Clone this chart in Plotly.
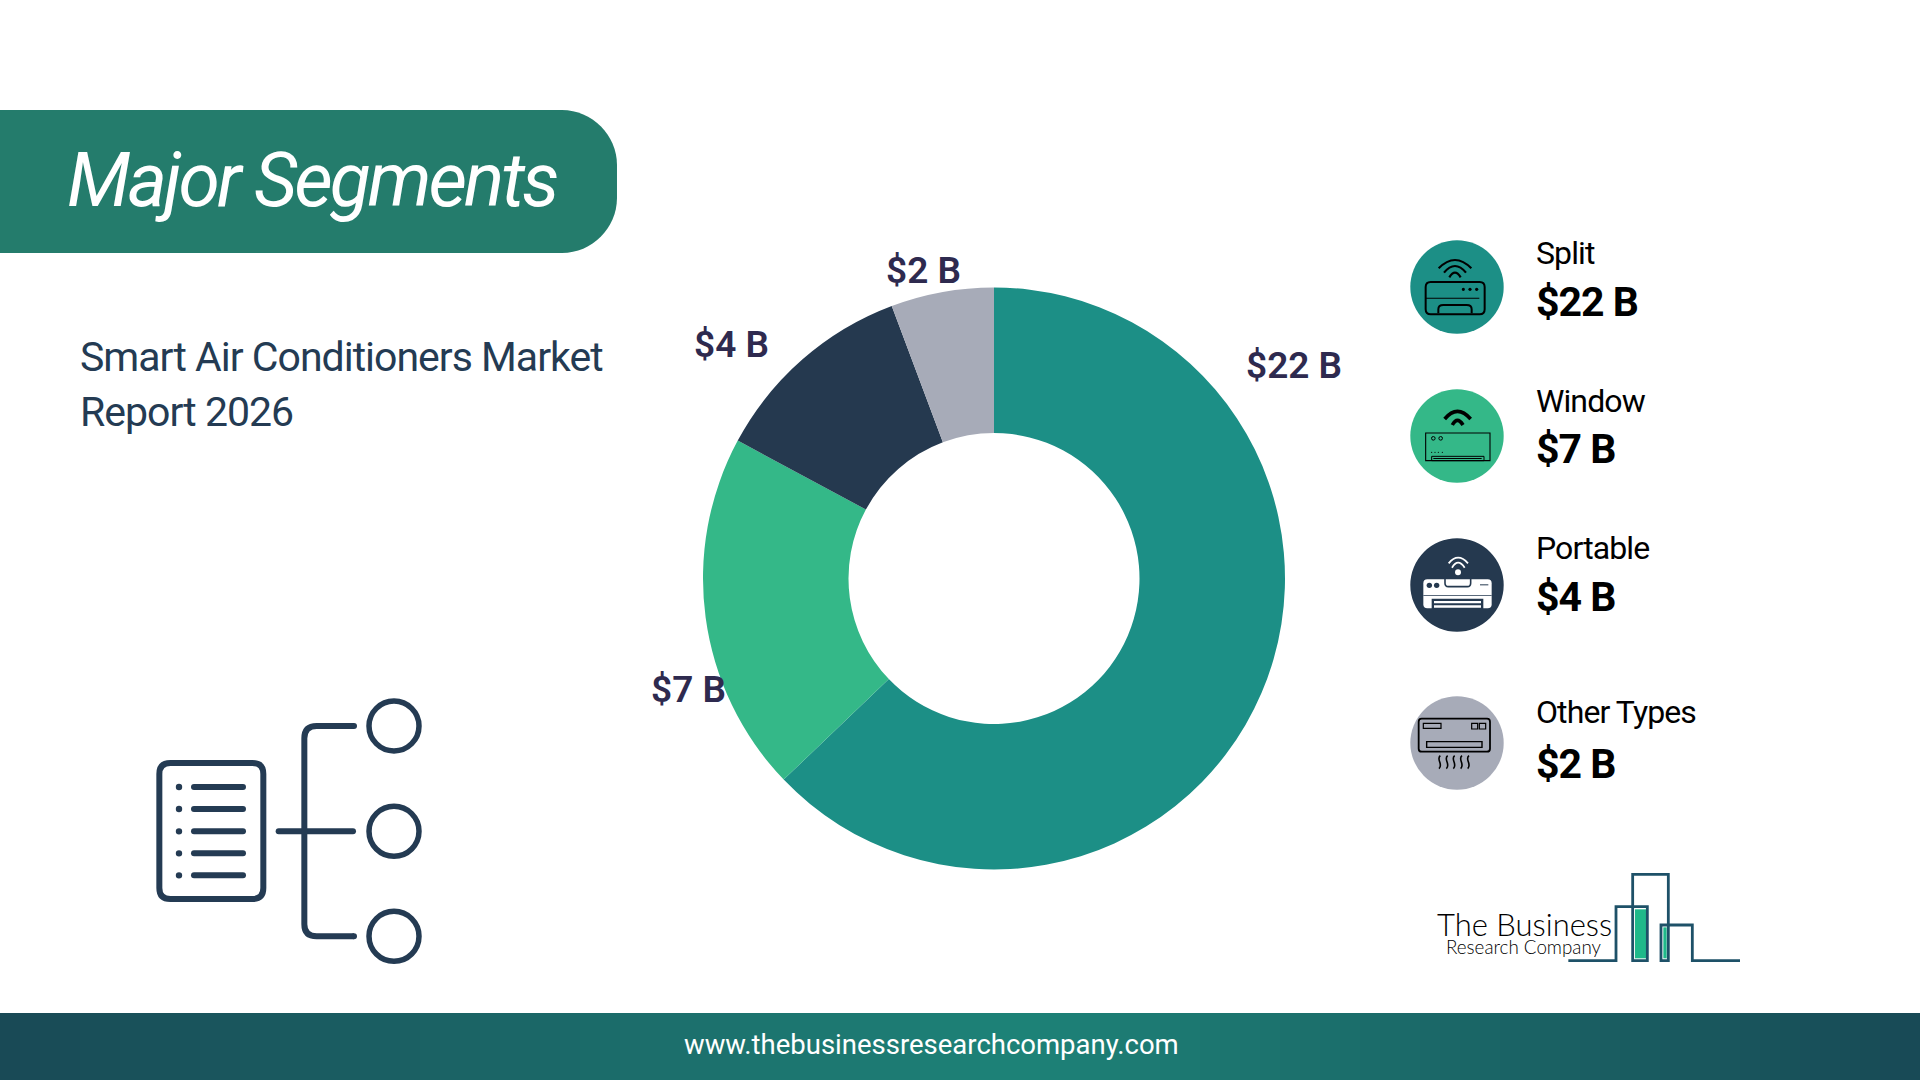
import json

import plotly.graph_objects as go

segments = ["Split", "Window", "Portable", "Other Types"]
values = [22, 7, 4, 2]
colors = ["#1c8f86", "#34b888", "#25394f", "#a7abb8"]
value_labels = ["$22 B", "$7 B", "$4 B", "$2 B"]

W, H = 1920, 1080
NAVY = "#243b53"
FONT = "Roboto"

shapes = []
annotations = []
# tightened tracking of the slide's texts, px per letter, by text and size
tracking = {}


def fx(x):
    return x / W


def fy(y):
    return 1 - y / H


def path(d, fill=None, color=None, width=0):
    # d is a list of (command, x, y, x, y...) in pixels, y going down
    parts = []
    for item in d:
        cmd = item[0]
        nums = item[1:]
        pts = []
        for i in range(0, len(nums), 2):
            pts.append("%.5f,%.5f" % (fx(nums[i]), fy(nums[i + 1])))
        parts.append(cmd + " ".join(pts))
    shapes.append(
        dict(
            type="path",
            xref="paper",
            yref="paper",
            path=" ".join(parts),
            fillcolor=fill if fill else "rgba(0,0,0,0)",
            line=dict(color=color if color else "rgba(0,0,0,0)", width=width),
        )
    )


def rect(x0, y0, x1, y1, fill=None, color=None, width=0):
    shapes.append(
        dict(
            type="rect",
            xref="paper",
            yref="paper",
            x0=fx(x0),
            x1=fx(x1),
            y0=fy(y0),
            y1=fy(y1),
            fillcolor=fill if fill else "rgba(0,0,0,0)",
            line=dict(color=color if color else "rgba(0,0,0,0)", width=width),
        )
    )


def circle(cx, cy, r, fill=None, color=None, width=0):
    shapes.append(
        dict(
            type="circle",
            xref="paper",
            yref="paper",
            x0=fx(cx - r),
            x1=fx(cx + r),
            y0=fy(cy - r),
            y1=fy(cy + r),
            fillcolor=fill if fill else "rgba(0,0,0,0)",
            line=dict(color=color if color else "rgba(0,0,0,0)", width=width),
        )
    )


def round_rect(x0, y0, x1, y1, r, fill=None, color=None, width=0):
    path(
        [
            ("M", x0 + r, y0),
            ("L", x1 - r, y0),
            ("Q", x1, y0, x1, y0 + r),
            ("L", x1, y1 - r),
            ("Q", x1, y1, x1 - r, y1),
            ("L", x0 + r, y1),
            ("Q", x0, y1, x0, y1 - r),
            ("L", x0, y0 + r),
            ("Q", x0, y0, x0 + r, y0),
            ("Z",),
        ],
        fill,
        color,
        width,
    )


def arc(x0, y0, xm, ym, x1, y1, color, width):
    # quadratic curve through the peak (xm, ym)
    path(
        [("M", x0, y0), ("Q", xm, 2 * ym - (y0 + y1) / 2, x1, y1)],
        None,
        color,
        width,
    )


def text(x, y, s, size, color, weight=400, anchor="left", style="normal", family=FONT, spacing=0):
    annotations.append(
        dict(
            x=fx(x),
            y=fy(y),
            xref="paper",
            yref="paper",
            text=s,
            showarrow=False,
            xanchor=anchor,
            yanchor="middle",
            font=dict(family=family, size=size, color=color, weight=weight, style=style),
        )
    )
    if spacing:
        tracking["%s|%g" % (s, size)] = spacing


# footer band, teal a little right of the middle and dark on both sides
def mix(a, b, t):
    return "rgb(%d,%d,%d)" % tuple(a[i] + (b[i] - a[i]) * t for i in range(3))


dark_l = (25, 74, 86)
mid = (30, 131, 120)
dark_r = (24, 74, 86)
peak = 0.53
for i in range(96):
    t = (i + 0.5) / 96
    if t < peak:
        c = mix(dark_l, mid, t / peak)
    else:
        c = mix(mid, dark_r, (t - peak) / (1 - peak))
    rect(i * 20, 1013, (i + 1) * 20, 1080, fill=c)

# title banner
path(
    [
        ("M", 0, 110),
        ("L", 562, 110),
        ("C", 592, 110, 617, 135, 617, 165),
        ("L", 617, 198),
        ("C", 617, 228, 592, 253, 562, 253),
        ("L", 0, 253),
        ("Z",),
    ],
    fill="#247c6c",
)
text(65, 180, "Major Segments", 75, "white", weight=400, style="italic", spacing=-3)
text(78, 357, "Smart Air Conditioners Market", 41, NAVY, spacing=-1)
text(78, 412, "Report 2026", 41, NAVY, spacing=-1)

# left hand tree icon
ox, oy = 130, 680


def zx(v):
    return ox + v / 3


def zy(v):
    return oy + v / 3


round_rect(zx(88), zy(249), zx(400), zy(657), 11, color=NAVY, width=6)
for v in [321, 387, 454, 520, 586]:
    circle(zx(147), zy(v), 3.2, fill=NAVY)
    round_rect(zx(183), zy(v) - 3, zx(348), zy(v) + 3, 3, fill=NAVY)
round_rect(zx(437), zy(454) - 3, zx(678), zy(454) + 3, 3, fill=NAVY)
path(
    [
        ("M", zx(672), zy(138)),
        ("L", zx(560), zy(138)),
        ("Q", zx(523), zy(138), zx(523), zy(175)),
        ("L", zx(523), zy(733)),
        ("Q", zx(523), zy(769), zx(560), zy(769)),
        ("L", zx(672), zy(769)),
    ],
    color=NAVY,
    width=6,
)
circle(zx(672), zy(138), 3, fill=NAVY)
circle(zx(672), zy(769), 3, fill=NAVY)
for v in [138, 454, 769]:
    circle(zx(792), zy(v), 25, color=NAVY, width=5.5)

# legend
icon_y = [287, 436, 585, 743]
label_y = [253, 401, 548, 712]
value_y = [302, 449, 597, 764]
for i in range(len(segments)):
    circle(1457, icon_y[i], 46.7, fill=colors[i])
    text(1534, label_y[i], segments[i], 32, "black", spacing=-0.9)
    text(1534, value_y[i], value_labels[i], 41, "black", weight=700, spacing=-1)

# split icon
ox, oy = 1380, 220
round_rect(zx(137), zy(186), zx(314), zy(283), 5, color="black", width=2)
rect(zx(137), zy(233), zx(298), zy(236), fill="black")
for v in [250, 270, 290]:
    circle(zx(v), zy(208), 1.6, fill="black")
path(
    [
        ("M", zx(175), zy(280)),
        ("L", zx(175), zy(268)),
        ("Q", zx(175), zy(255), zx(190), zy(255)),
        ("L", zx(260), zy(255)),
        ("Q", zx(275), zy(255), zx(275), zy(268)),
        ("L", zx(275), zy(280)),
    ],
    color="black",
    width=2,
)
arc(zx(176), zy(145), zx(225), zy(120), zx(274), zy(145), "black", 2.2)
arc(zx(192), zy(158), zx(225), zy(138), zx(258), zy(158), "black", 2.2)
arc(zx(208), zy(172), zx(225), zy(158), zx(242), zy(172), "black", 2.2)

# window icon
rect(zx(137), zy(639), zx(330), zy(722), color="black", width=1.1)
circle(zx(160), zy(655), 1.8, color="black", width=1)
circle(zx(182), zy(655), 1.8, color="black", width=1)
for v in [155, 165, 175, 187]:
    circle(zx(v), zy(697), 0.6, fill="black")
rect(zx(155), zy(709), zx(312), zy(722), color="black", width=1)
rect(zx(160), zy(714), zx(305), zy(717), fill="black")
arc(zx(194), zy(597), zx(232), zy(574), zx(272), zy(597), "black", 3.6)
arc(zx(217), zy(615), zx(232), zy(601), zx(249), zy(615), "black", 3.6)

# portable icon
ox, oy = 1380, 520
round_rect(zx(130), zy(178), zx(335), zy(265), 4, fill="white")
path(
    [
        ("M", zx(195), zy(176)),
        ("L", zx(195), zy(190)),
        ("Q", zx(195), zy(200), zx(205), zy(200)),
        ("L", zx(262), zy(200)),
        ("Q", zx(272), zy(200), zx(272), zy(190)),
        ("L", zx(272), zy(176)),
    ],
    color=colors[2],
    width=1.6,
)
circle(zx(148), zy(196), 2.7, fill=colors[2])
circle(zx(170), zy(196), 2.7, fill=colors[2])
rect(zx(300), zy(193), zx(325), zy(196), fill=colors[2])
rect(zx(130), zy(226), zx(335), zy(228), fill=colors[2])
path(
    [("M", zx(155), zy(267)), ("L", zx(155), zy(236)), ("L", zx(310), zy(236)), ("L", zx(310), zy(267))],
    fill=colors[2],
)
rect(zx(162), zy(243), zx(303), zy(250), fill="white")
rect(zx(162), zy(256), zx(303), zy(263), fill="white")
circle(zx(234), zy(157), 3, fill="white")
arc(zx(206), zy(130), zx(234), zy(113), zx(264), zy(130), "white", 1.8)
arc(zx(216), zy(143), zx(234), zy(128), zx(254), zy(143), "white", 1.8)

# other types icon
round_rect(zx(116), zy(596), zx(330), zy(695), 3, color="black", width=1.8)
rect(zx(130), zy(610), zx(183), zy(625), color="black", width=1.2)
rect(zx(275), zy(610), zx(293), zy(627), color="black", width=1.2)
rect(zx(298), zy(610), zx(317), zy(627), color="black", width=1.2)
rect(zx(140), zy(665), zx(306), zy(682), color="black", width=1.4)
for v in [179, 201, 222, 244, 265]:
    path(
        [
            ("M", zx(v + 2), zy(707)),
            ("C", zx(v - 12), zy(718), zx(v + 12), zy(732), zx(v - 2), zy(746)),
        ],
        color="black",
        width=1.6,
    )

# logo
ox, oy = 1400, 850
LOGO = "#1e5168"
rect(zx(705), zy(178), zx(738), zy(325), fill="#1fb98a")
rect(zx(790), zy(232), zx(800), zy(325), fill="#1fb98a")
path(
    [
        ("M", zx(505), zy(332)),
        ("L", zx(648), zy(332)),
        ("L", zx(648), zy(170)),
        ("L", zx(742), zy(170)),
        ("L", zx(742), zy(332)),
        ("L", zx(698), zy(332)),
        ("L", zx(698), zy(73)),
        ("L", zx(805), zy(73)),
        ("L", zx(805), zy(332)),
        ("L", zx(783), zy(332)),
        ("L", zx(783), zy(225)),
        ("L", zx(877), zy(225)),
        ("L", zx(877), zy(332)),
        ("L", zx(1020), zy(332)),
    ],
    color=LOGO,
    width=2.8,
)
text(1435, 924, "The Business", 31, "black", weight=300, family="Lato")
text(1444, 946, "Research Company", 18.8, "black", weight=300, family="Lato")

# footer address
text(931, 1044, "www.thebusinessresearchcompany.com", 27.5, "white", anchor="center")

# labels round the donut
label_x = [1294, 688, 731, 923]
label_yy = [365, 689, 344, 270]
for i in range(len(values)):
    text(label_x[i], label_yy[i], value_labels[i], 37, "#2e2a4f", weight=600, anchor="center")

cx, cy, r = 994, 578.5, 291

fig = go.Figure(
    go.Pie(
        labels=segments,
        values=values,
        hole=0.5,
        sort=False,
        direction="clockwise",
        rotation=0,
        textinfo="none",
        hoverinfo="label+value",
        marker=dict(colors=colors, line=dict(width=0)),
        domain=dict(
            x=[fx(cx - r), fx(cx + r)],
            y=[fy(cy + r), fy(cy - r)],
        ),
    )
)
fig.update_layout(
    width=W,
    height=H,
    margin=dict(l=0, r=0, t=0, b=0),
    paper_bgcolor="white",
    showlegend=False,
    shapes=shapes,
    annotations=annotations,
)

# plotly fonts have no letter spacing, so it is set on the drawn texts;
# plotly centres them in their box, so the left edge is put back afterwards
post = """
document.body.style.margin='0';
document.body.style.overflow='hidden';
var tracking = %s;
document.querySelectorAll('.annotation-text').forEach(function (t) {
    var s = tracking[t.textContent + '|' + parseFloat(t.style.fontSize)];
    if (!s) { return; }
    var before = t.getBBox().x;
    t.style.letterSpacing = s + 'px';
    var after = t.getBBox().x;
    t.setAttribute('x', parseFloat(t.getAttribute('x')) + before - after);
});
""" % json.dumps(tracking)

fig.write_html("out.html", post_script=post, config={"displayModeBar": False})
